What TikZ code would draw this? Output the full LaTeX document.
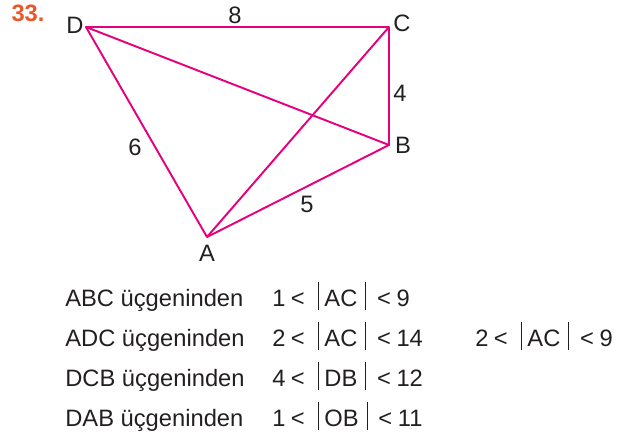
\documentclass[tikz,border=0pt]{standalone}
\usepackage{fontspec}
\setmainfont{Liberation Sans}
\usepackage{xcolor}
\definecolor{kenarrenk}{HTML}{E6007E}
\definecolor{sorurenk}{HTML}{E8582A}
\definecolor{yazirenk}{HTML}{231F20}
\tikzset{
    kenar/.style={draw=kenarrenk, line width=1.1pt, line join=round},
    etiket/.style={inner sep=0pt, text=yazirenk, font=\fontsize{13.5}{16}\selectfont},
    satir/.style={inner sep=0pt, anchor=base west, text=yazirenk, font=\fontsize{13.5}{16}\selectfont}
}
\newcommand{\cizgi}{\rule[-2.3pt]{0.5pt}{15.9pt}}
\newcommand{\aralik}[3]{#1\hspace{0.22em}<\hspace{0.55em}\cizgi\hspace{0.25em}#2\hspace{0.34em}\cizgi\hspace{0.45em}<\hspace{0.24em}#3}

\begin{document}
\begin{tikzpicture}[x=0.02cm, y=-0.02cm]
        \useasboundingbox (0,0) rectangle (636,443);
        % koseler
        \coordinate (D) at (86,27);
        \coordinate (C) at (389,27);
        \coordinate (B) at (389,145);
        \coordinate (A) at (207,237);

        \draw[kenar] (D) -- (C) -- (B) -- (A) -- cycle;
        \draw[kenar] (D) -- (B);
        \draw[kenar] (A) -- (C);

        \node[etiket, text=sorurenk, font=\fontsize{13.5}{16}\selectfont\bfseries] (no) at (28,13) {33.};
        \node[etiket] (lD) at (75,25) {D};
        \node[etiket] (lC) at (402,23) {C};
        \node[etiket] (lB) at (403,145) {B};
        \node[etiket] (lA) at (207,253) {A};
        \node[etiket] (dc) at (235,15) {8};
        \node[etiket] (cb) at (400,93) {4};
        \node[etiket] (da) at (135,147) {6};
        \node[etiket] (ab) at (307,204) {5};

        % esitsizlikler
        \node[satir] (t1) at (65,306) {ABC üçgeninden};
        \node[satir] (e1) at (272,306) {\aralik{1}{AC}{9}};
        \node[satir] (t2) at (65,346) {ADC üçgeninden};
        \node[satir] (e2) at (272,346) {\aralik{2}{AC}{14}};
        \node[satir] (s2) at (475,346) {\aralik{2}{AC}{9}};
        \node[satir] (t3) at (65,386) {DCB üçgeninden};
        \node[satir] (e3) at (272,386) {\aralik{4}{DB}{12}};
        \node[satir] (t4) at (65,426) {DAB üçgeninden};
        \node[satir] (e4) at (272,426) {\aralik{1}{OB}{11}};
    \end{tikzpicture}
\end{document}
